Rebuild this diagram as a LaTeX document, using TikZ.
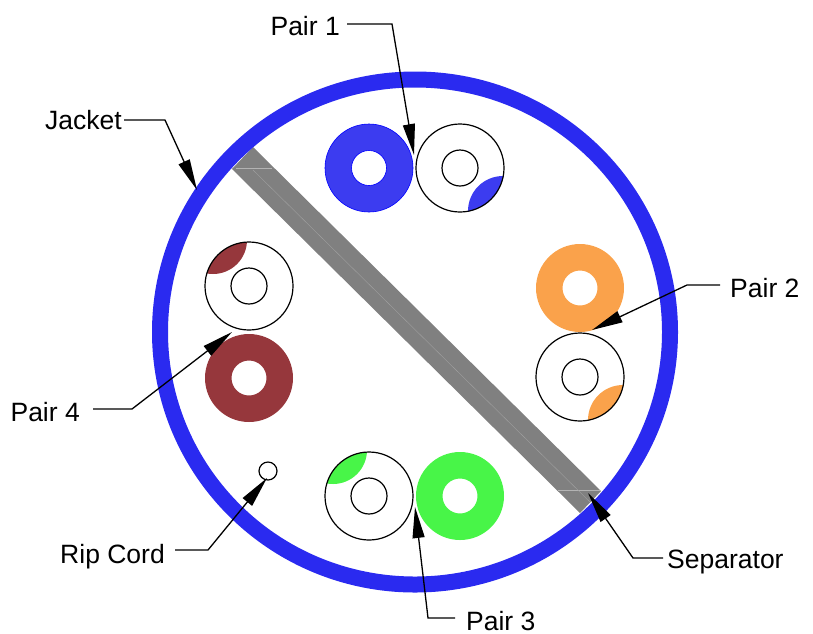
\documentclass[tikz,border=0pt]{standalone}
\usepackage{fontspec}
\setmainfont{Liberation Sans}
\usetikzlibrary{arrows.meta}
\definecolor{jacketblue}{RGB}{42,42,240}
\definecolor{pairblue}{RGB}{60,60,240}
\definecolor{pairorange}{RGB}{250,162,75}
\definecolor{pairgreen}{RGB}{72,245,72}
\definecolor{pairred}{RGB}{150,55,60}
\definecolor{sepgray}{RGB}{128,128,128}
\tikzset{
  lbl/.style={font=\fontsize{26.5}{30}\selectfont,inner ysep=0pt,text height=23pt,text depth=0pt},
  leader/.style={black,line width=1.3pt,-{Triangle[length=31pt,width=12pt]}},
  wire/.style={black,line width=1.2pt}
}
\begin{document}
\begin{tikzpicture}[x=1pt,y=-1pt]
\useasboundingbox (0,0) rectangle (813,633);

%draw separator
\fill[sepgray](253,147)--(232,169)--(580,513)--(601,491)--cycle;
\draw[white!40!sepgray,line width=0.5pt](236,168)--(272,168);
\draw[white!40!sepgray,line width=0.5pt](558,490)--(600,490);
\draw[white!25!sepgray,line width=0.4pt](253,170)--(590,502);

%draw jacket
\draw[jacketblue,line width=16pt](415,332)ellipse(255 and 252.5);

%draw pair #1
\fill[pairblue,even odd rule](369,168)circle(44)(369,168)circle(17.5);
\draw[blue,line width=0.6pt](369,168)circle(44)(369,168)circle(17.5);
\begin{scope}
\clip(460,168)circle(44);
\fill[pairblue](503,211)circle(35);
\end{scope}
\draw[wire](460,168)circle(44);
\draw[wire](460,168)circle(18);

%draw pair #2
\fill[pairorange,even odd rule](580,288)circle(44)(580,288)circle(17.5);
\begin{scope}
\clip(580,377)circle(44);
\fill[pairorange](623,420)circle(35);
\end{scope}
\draw[wire](580,377)circle(44);
\draw[wire](580,377)circle(18);

%draw pair #3
\fill[pairgreen,even odd rule](460,496)circle(44)(460,496)circle(17.5);
\begin{scope}
\clip(369,496)circle(44);
\fill[pairgreen](333,450)circle(34);
\end{scope}
\draw[wire](369,496)circle(44);
\draw[wire](369,496)circle(18);

%draw pair #4
\fill[pairred,even odd rule](249,378)circle(44)(249,378)circle(17.5);
\begin{scope}
\clip(249,286)circle(44);
\fill[pairred](213,240)circle(34);
\end{scope}
\draw[wire](249,286)circle(44);
\draw[wire](249,286)circle(18);

%draw rip cord
\draw[wire](268,471)circle(9);

%labels
\node[lbl,anchor=east,inner xsep=7pt] (lblPair1) at (347,24) {Pair 1};
\node[lbl,anchor=east,inner xsep=2pt,text height=19pt] (lblJacket) at (124,120) {Jacket};
\node[lbl,anchor=west,inner xsep=10pt,text height=25pt] (lblPair2) at (720,285) {Pair 2};
\node[lbl,anchor=east,inner xsep=13pt,text height=25pt] (lblPair4) at (93,409) {Pair 4};
\node[lbl,anchor=east,inner xsep=10pt,text height=27pt] (lblRip) at (175,550) {Rip Cord};
\node[lbl,anchor=west,inner xsep=4pt,text height=21pt] (lblSep) at (663,558) {Separator};
\node[lbl,anchor=west,inner xsep=11pt,text height=25pt] (lblPair3) at (455,618) {Pair 3};

%leader bends and tips
\coordinate (bendPair1) at (392,24);
\coordinate (tipPair1) at (414,155);
\coordinate (bendJacket) at (165,120);
\coordinate (tipJacket) at (197,190);
\coordinate (bendPair2) at (687,285);
\coordinate (tipPair2) at (592,330);
\coordinate (bendPair4) at (132,409);
\coordinate (tipPair4) at (232,332);
\coordinate (bendRip) at (208,550);
\coordinate (tipRip) at (267,478);
\coordinate (bendSep) at (633,558);
\coordinate (tipSep) at (588,493);
\coordinate (bendPair3) at (428,618);
\coordinate (tipPair3) at (415,507);

\draw[leader](lblPair1.east)--(bendPair1)--(tipPair1);
\draw[leader](lblJacket.east)--(bendJacket)--(tipJacket);
\draw[leader](lblPair2.west)--(bendPair2)--(tipPair2);
\draw[leader](lblPair4.east)--(bendPair4)--(tipPair4);
\draw[leader](lblRip.east)--(bendRip)--(tipRip);
\draw[leader](lblSep.west)--(bendSep)--(tipSep);
\draw[leader](lblPair3.west)--(bendPair3)--(tipPair3);
\end{tikzpicture}
\end{document}
